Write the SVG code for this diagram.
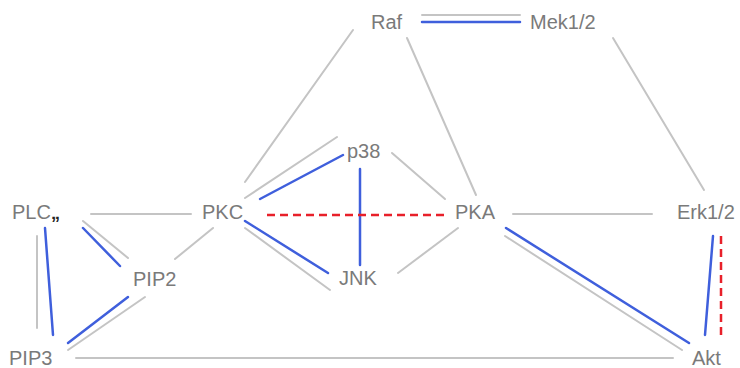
<svg xmlns="http://www.w3.org/2000/svg" width="740" height="368" viewBox="0 0 740 368">
  <style>
    .bg { fill: #ffffff; }
    .lbl { font-family: "Liberation Sans", Arial, Helvetica, sans-serif; font-size: 20px; fill: #7a7a7a; text-anchor: start; }
    .sub { font-weight: bold; fill: #222; font-size: 18px; }
    .g { stroke: #c4c4c4; stroke-width: 2; fill: none; stroke-linecap: round; }
    .b { stroke: #3f5fdc; stroke-width: 2.5; fill: none; stroke-linecap: round; }
    .r { stroke: #e8202a; stroke-width: 2.5; fill: none; stroke-dasharray: 8 5; }
  </style>
  <rect class="bg" x="0" y="0" width="740" height="368"/>

  <g id="connectors">
    <!-- Raf - Mek1/2 -->
    <line class="g" x1="422" y1="15" x2="520" y2="15"/>
    <line class="b" x1="422" y1="22" x2="520" y2="22"/>
    <!-- Raf - PKC -->
    <line class="g" x1="353" y1="30" x2="245" y2="182"/>
    <!-- Raf - PKA -->
    <line class="g" x1="407" y1="38" x2="476" y2="195"/>
    <!-- Mek1/2 - Erk1/2 -->
    <line class="g" x1="613" y1="38" x2="704" y2="190"/>
    <!-- PKC - p38 -->
    <line class="g" x1="245" y1="198" x2="337" y2="137"/>
    <line class="b" x1="260" y1="199" x2="343" y2="155"/>
    <!-- p38 - PKA -->
    <line class="g" x1="392" y1="153" x2="445" y2="199"/>
    <!-- p38 - JNK -->
    <line class="b" x1="360" y1="169" x2="360" y2="265"/>
    <!-- PKC - PKA -->
    <line class="r" x1="267" y1="215" x2="445" y2="215"/>
    <!-- PKC - JNK -->
    <line class="b" x1="245" y1="221" x2="328" y2="273"/>
    <line class="g" x1="245" y1="228" x2="330" y2="290"/>
    <!-- JNK - PKA -->
    <line class="g" x1="398" y1="273" x2="458" y2="228"/>
    <!-- PKC - PIP2 -->
    <line class="g" x1="175" y1="259" x2="213" y2="228"/>
    <!-- PLC - PKC -->
    <line class="g" x1="91" y1="214" x2="191" y2="214"/>
    <!-- PLC - PIP2 -->
    <line class="g" x1="83" y1="221" x2="128" y2="258"/>
    <line class="b" x1="83" y1="228" x2="120" y2="266"/>
    <!-- PLC - PIP3 -->
    <line class="g" x1="37" y1="236" x2="37" y2="328"/>
    <line class="b" x1="45" y1="228" x2="53" y2="335"/>
    <!-- PIP2 - PIP3 -->
    <line class="b" x1="128" y1="297" x2="68" y2="343"/>
    <line class="g" x1="145" y1="297" x2="68" y2="350"/>
    <!-- PIP3 - Akt -->
    <line class="g" x1="76" y1="358" x2="673" y2="358"/>
    <!-- PKA - Erk1/2 -->
    <line class="g" x1="513" y1="214" x2="652" y2="214"/>
    <!-- PKA - Akt -->
    <line class="b" x1="506" y1="228" x2="689" y2="343"/>
    <line class="g" x1="505" y1="236" x2="682" y2="350"/>
    <!-- Erk1/2 - Akt -->
    <line class="b" x1="713" y1="236" x2="705" y2="335"/>
    <line class="r" x1="721" y1="236" x2="721" y2="335" stroke-dasharray="6 4"/>
  </g>

  <g id="raf"><text class="lbl" x="371" y="29">Raf</text></g>
  <g id="mek"><text class="lbl" x="530" y="29">Mek1/2</text></g>
  <g id="p38"><text class="lbl" x="347" y="158">p38</text></g>
  <g id="plc"><text class="lbl" x="12" y="219">PLC<tspan class="sub">„</tspan></text></g>
  <g id="pkc"><text class="lbl" x="202" y="219">PKC</text></g>
  <g id="pka"><text class="lbl" x="455" y="219">PKA</text></g>
  <g id="erk"><text class="lbl" x="677" y="219">Erk1/2</text></g>
  <g id="pip2"><text class="lbl" x="133" y="286">PIP2</text></g>
  <g id="jnk"><text class="lbl" x="339" y="285">JNK</text></g>
  <g id="pip3"><text class="lbl" x="9" y="365">PIP3</text></g>
  <g id="akt"><text class="lbl" x="692" y="365">Akt</text></g>
</svg>
